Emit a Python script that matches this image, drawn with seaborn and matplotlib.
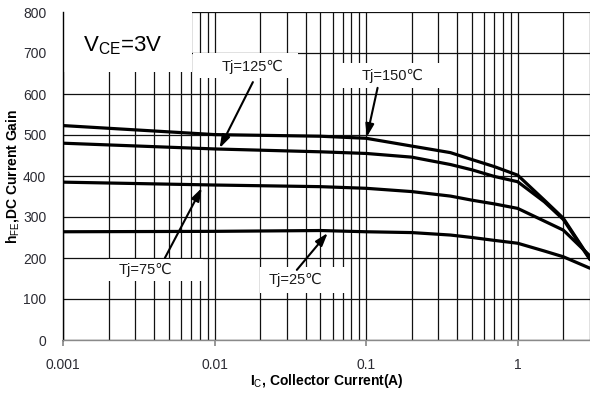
import numpy as np
import pandas as pd
import matplotlib
matplotlib.use("Agg")
import matplotlib.pyplot as plt
from matplotlib.patches import Rectangle
from matplotlib.ticker import FixedLocator, LogLocator, NullFormatter
import seaborn as sns

# ---------------- data ----------------
ic = [0.001, 0.01, 0.05, 0.1, 0.2, 0.36, 0.5, 0.7, 1.0, 1.5, 2.0, 3.0]
hfe_150 = [523, 501, 497, 492, 473, 457, 440, 423, 402, 341, 297, 198]
hfe_125 = [480, 466, 459, 455, 446, 428, 415, 399, 386, 337, 294, 196]
hfe_75 = [385, 378, 374, 370, 362, 351, 341, 332, 321, 290, 268, 205]
hfe_25 = [264, 265, 267, 264, 262, 256, 250, 243, 236, 217, 203, 175]
series_names = ["Tj=150℃", "Tj=125℃", "Tj=75℃", "Tj=25℃"]

x_ticks = [0.001, 0.01, 0.1, 1]
x_ticklabels = ["0.001", "0.01", "0.1", "1"]
y_ticks = [0, 100, 200, 300, 400, 500, 600, 700, 800]

# arrow (tail -> head) positions for labels, in data units
arrow_125 = ((0.0179, 629), (0.0108, 468))
arrow_150 = ((0.119, 615), (0.101, 495))
arrow_75 = ((0.0047, 200), (0.00824, 371))
arrow_25 = ((0.0349, 171), (0.0558, 261))

df = pd.concat([
    pd.DataFrame({"Ic": ic, "hFE": vals, "Tj": name})
    for name, vals in zip(series_names, [hfe_150, hfe_125, hfe_75, hfe_25])
])

# ---------------- style ----------------
sns.set_theme(style="white")
plt.rcParams["font.family"] = ["Liberation Sans", "DejaVu Sans"]
plt.rcParams["mathtext.fontset"] = "custom"
plt.rcParams["mathtext.rm"] = "Liberation Sans"
plt.rcParams["mathtext.it"] = "Liberation Sans:italic"
plt.rcParams["mathtext.bf"] = "Liberation Sans:bold"

fig = plt.figure(figsize=(5.9, 3.94), dpi=100)
ax = fig.add_axes([63 / 590, (394 - 340) / 394, 527 / 590, 328 / 394])

sns.lineplot(data=df, x="Ic", y="hFE", hue="Tj", palette=["black"] * 4,
             legend=False, estimator=None, sort=False, lw=2.3, ax=ax, zorder=3)

ax.set_xscale("log")
ax.set_xlim(0.001, 3)
ax.set_ylim(0, 800)

ax.xaxis.set_major_locator(FixedLocator(x_ticks))
ax.set_xticklabels(x_ticklabels)
ax.xaxis.set_minor_locator(LogLocator(base=10, subs=np.arange(2, 10)))
ax.xaxis.set_minor_formatter(NullFormatter())
ax.set_yticks(y_ticks)

ax.set_axisbelow(True)
ax.grid(True, which="major", axis="both", color="#111111", lw=0.9)
ax.grid(True, which="minor", axis="x", color="#111111", lw=0.9)

for s in ["top", "right"]:
    ax.spines[s].set_visible(False)
ax.spines["left"].set_color("black")
ax.spines["left"].set_linewidth(1.0)
ax.spines["bottom"].set_color("#8a8a8a")
ax.spines["bottom"].set_linewidth(1.0)

ax.tick_params(axis="x", which="major", length=4, color="#8a8a8a", direction="out",
               pad=9, labelsize=10, labelcolor="#2b2b33", bottom=True)
ax.tick_params(axis="x", which="minor", length=0)
ax.tick_params(axis="y", length=0, pad=12, labelsize=10, labelcolor="#2b2b33", left=True)

ax.set_xlabel("")
ax.set_ylabel("")
fig.text((63 + 590) / 2 / 590, (394 - 381) / 394, r"I$_{\mathrm{C}}$, Collector Current(A)",
         fontsize=10, fontweight="bold", color="black", ha="center", va="center")
fig.text(13 / 590, (394 - 176) / 394, r"h$_{\mathrm{FE}}$,DC Current Gain",
         fontsize=10, fontweight="bold", color="black", ha="center", va="center",
         rotation=90)

# white label boxes (axes-fraction layout)
boxes = [
    (0.0, 0.8171, 0.2448, 0.1829),
    (0.2467, 0.7988, 0.1992, 0.0762),
    (0.5294, 0.7683, 0.1860, 0.0762),
    (0.0854, 0.1799, 0.1803, 0.0671),
    (0.3738, 0.1433, 0.1613, 0.0793),
]
for (bx, by, bw, bh) in boxes:
    ax.add_patch(Rectangle((bx, by), bw, bh, transform=ax.transAxes,
                           facecolor="white", edgecolor="none", zorder=1.5))

ax.text(0.1139, 0.896, r"V$_{\mathrm{CE}}$=3V", transform=ax.transAxes,
        ha="center", va="center", fontsize=16, color="black", zorder=4)
label_pos = {
    "Tj=125℃": (0.3605, 0.8323),
    "Tj=150℃": (0.6262, 0.8049),
    "Tj=75℃": (0.1556, 0.2134),
    "Tj=25℃": (0.4402, 0.1829),
}
for name, (tx, ty) in label_pos.items():
    ax.text(tx, ty, name, transform=ax.transAxes, ha="center", va="center",
            fontsize=10.5, color="#1a1a1a", zorder=4)

for tail, head in [arrow_125, arrow_150, arrow_75, arrow_25]:
    ax.annotate("", xy=head, xytext=tail, xycoords="data", textcoords="data",
                arrowprops=dict(arrowstyle="-|>,head_length=0.55,head_width=0.18",
                                color="black", lw=1.5, shrinkA=0, shrinkB=0,
                                mutation_scale=14),
                zorder=4)

fig.savefig("out.png", dpi=100)
